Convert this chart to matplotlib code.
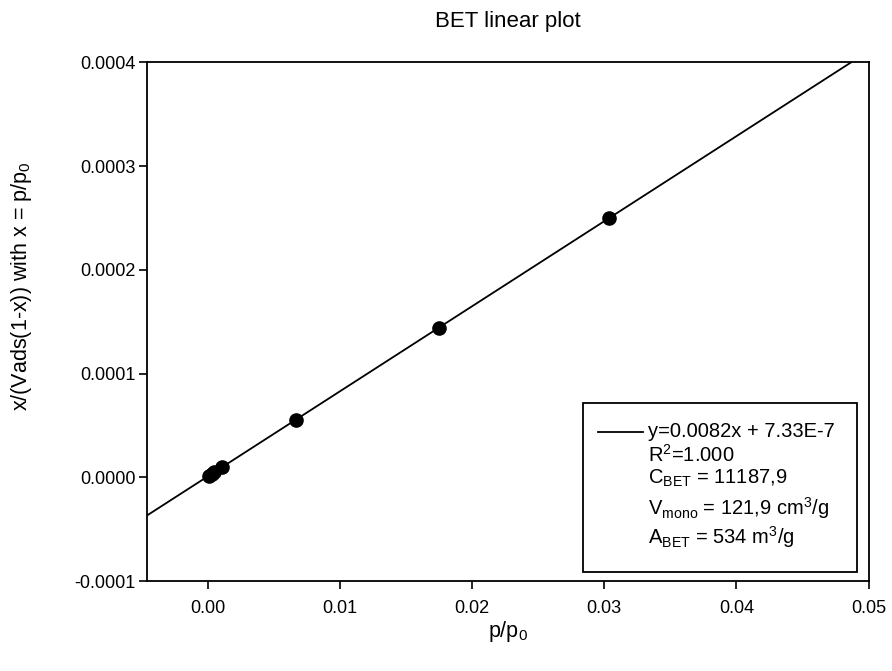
import matplotlib
matplotlib.use("Agg")
import matplotlib.pyplot as plt
from matplotlib.patches import Rectangle
from matplotlib.lines import Line2D
from matplotlib.ticker import FuncFormatter

plt.rcParams['font.family'] = ['Liberation Sans', 'DejaVu Sans']
plt.rcParams['mathtext.fontset'] = 'custom'
plt.rcParams['mathtext.rm'] = 'Liberation Sans'
plt.rcParams['mathtext.it'] = 'Liberation Sans'
plt.rcParams['mathtext.bf'] = 'Liberation Sans:bold'

# data
p_rel = [0.0001, 0.0003, 0.0005, 0.0011, 0.0067, 0.0175, 0.0304]
y_bet = [0.0000013, 0.0000030, 0.0000048, 0.0000098, 0.0000555, 0.000144, 0.000250]
slope = 0.0082
intercept = 7.33e-7
x_ticks = [0.00, 0.01, 0.02, 0.03, 0.04, 0.05]
y_ticks = [-0.0001, 0.0000, 0.0001, 0.0002, 0.0003, 0.0004]
legend_lines = [r"y=0.0082x + 7.33E-7",
                r"R$^2$=1.000",
                r"C$_{\mathrm{BET}}$ = 11187,9",
                r"V$_{\mathrm{mono}}$ = 121,9 cm$^3$/g",
                r"A$_{\mathrm{BET}}$ = 534 m$^3$/g"]

xmin, xmax = -0.0046, 0.05
ymin, ymax = -0.0001, 0.0004

fig = plt.figure(figsize=(8.92, 6.71), dpi=100)
ax = fig.add_axes([0.1645, 0.1341, 0.8092, 0.7731])

fx = [xmin, xmax]
fy = [slope * v + intercept for v in fx]
ax.plot(fx, fy, color='black', lw=1.3, solid_capstyle='butt')
ax.plot(p_rel, y_bet, 'o', color='black', markersize=9.5, zorder=3)

ax.set_xlim(xmin, xmax)
ax.set_ylim(ymin, ymax)
ax.set_xticks(x_ticks)
ax.set_yticks(y_ticks)
ax.xaxis.set_major_formatter(FuncFormatter(lambda v, p: f"{v:.2f}"))
ax.yaxis.set_major_formatter(FuncFormatter(lambda v, p: f"{0.0 if abs(v) < 1e-12 else v:.4f}"))
ax.tick_params(direction='out', length=6, width=1.2, labelsize=13,
               top=False, right=False)
ax.tick_params(axis='x', pad=8)
ax.tick_params(axis='y', pad=2)
for s in ax.spines.values():
    s.set_linewidth(1.3)

fig.text(0.5690, 1 - 632 / 671, r"p/p$_0$", fontsize=15.5, ha='center', va='center')
fig.text(22 / 892, 1 - 286 / 671, r"x/(Vads(1-x)) with x = p/p$_0$", fontsize=15.5,
         ha='center', va='center', rotation=90)
fig.text(0.5690, 1 - 22 / 671, "BET linear plot", fontsize=16, ha='center', va='center')

# legend box
ax.add_patch(Rectangle((0.6045, 0.0174), 0.3795, 0.3258, transform=ax.transAxes,
                       fill=False, edgecolor='black', lw=1.3, zorder=4))
ax.add_line(Line2D([0.6253, 0.6876], [0.2873, 0.2873], transform=ax.transAxes,
                   color='black', lw=1.3, zorder=4))
row_y = [0.2873, 0.2429, 0.1986, 0.1407, 0.0848]
for txt, yy in zip(legend_lines, row_y):
    ax.text(0.6945, yy, txt, transform=ax.transAxes, fontsize=14.5,
            va='center', ha='left', zorder=5)

fig.savefig("out.png", dpi=100)
